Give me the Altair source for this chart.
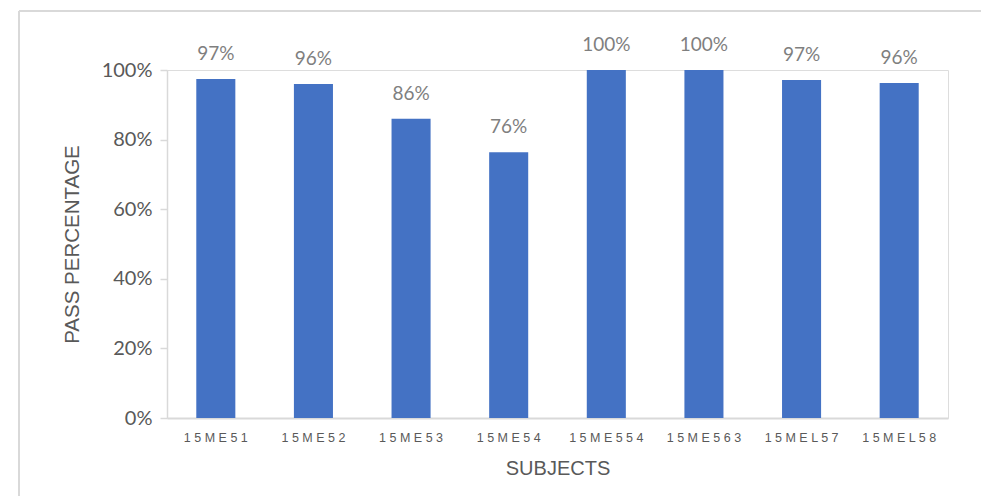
import altair as alt
import pandas as pd

subjects = ["15ME51", "15ME52", "15ME53", "15ME54", "15ME554", "15ME563", "15MEL57", "15MEL58"]
pass_pct = [0.974, 0.960, 0.860, 0.764, 1.000, 1.000, 0.971, 0.963]
y_ticks = [0, 0.2, 0.4, 0.6, 0.8, 1.0]

df = pd.DataFrame({"subject": subjects, "pct": pass_pct})

W, H = 781, 348
PAD_R = 33
PAD_B = 78

x_enc = alt.X(
    "subject:N",
    sort=subjects,
    scale=alt.Scale(paddingInner=0.6, paddingOuter=0.3),
    axis=alt.Axis(
        title="SUBJECTS",
        labelAngle=0,
        labelExpr="join(split(datum.label, ''), ' ')",
        labelFont="Liberation Sans",
        labelFontSize=12.5,
        labelColor="#595959",
        labelPadding=13,
        ticks=False,
        domainColor="#d9d9d9",
        domainWidth=2,
        titleFont="Liberation Sans",
        titleFontSize=20,
        titleFontWeight="normal",
        titleColor="#595959",
        titlePadding=15,
    ),
)

y_enc = alt.Y(
    "pct:Q",
    scale=alt.Scale(domain=[0, 1]),
    axis=alt.Axis(
        title="PASS PERCENTAGE",
        values=y_ticks,
        format=".0%",
        grid=False,
        labelFont="Lato",
        labelFontSize=20,
        labelColor="#595959",
        labelPadding=8,
        tickColor="#d9d9d9",
        tickSize=7,
        tickWidth=1.5,
        domainColor="#d9d9d9",
        domainWidth=1.5,
        titleFont="Liberation Sans",
        titleFontSize=20.5,
        titleFontWeight="normal",
        titleColor="#595959",
        titlePadding=19,
    ),
)

bars = alt.Chart(df).mark_bar(color="#4472C4").encode(x=x_enc, y=y_enc)

labels = alt.Chart(df).transform_calculate(
    lab="format(datum.pct, '.0%')"
).mark_text(
    baseline="bottom", dy=-15, font="Lato", fontSize=19, color="#7f7f7f"
).encode(
    x=alt.X("subject:N", sort=subjects),
    y=alt.Y("pct:Q"),
    text="lab:N",
)

one = alt.Data(values=[{"a": 1}])
frame_top = alt.Chart(one).mark_rule(color="#d9d9d9", strokeWidth=2).encode(
    x=alt.value(-148), x2=alt.value(W + PAD_R + 50), y=alt.value(-59)
)
frame_left = alt.Chart(one).mark_rule(color="#d9d9d9", strokeWidth=2).encode(
    x=alt.value(-148), y=alt.value(-59), y2=alt.value(H + 150)
)

chart = alt.layer(frame_top, frame_left, bars, labels).properties(
    width=W,
    height=H,
    autosize=alt.AutoSizeParams(type="none"),
    padding={"left": 159, "top": 62, "right": PAD_R, "bottom": PAD_B},
).configure_view(stroke=None).configure(background="white")

chart.save("out.html", embed_options={"renderer": "svg", "actions": False})
